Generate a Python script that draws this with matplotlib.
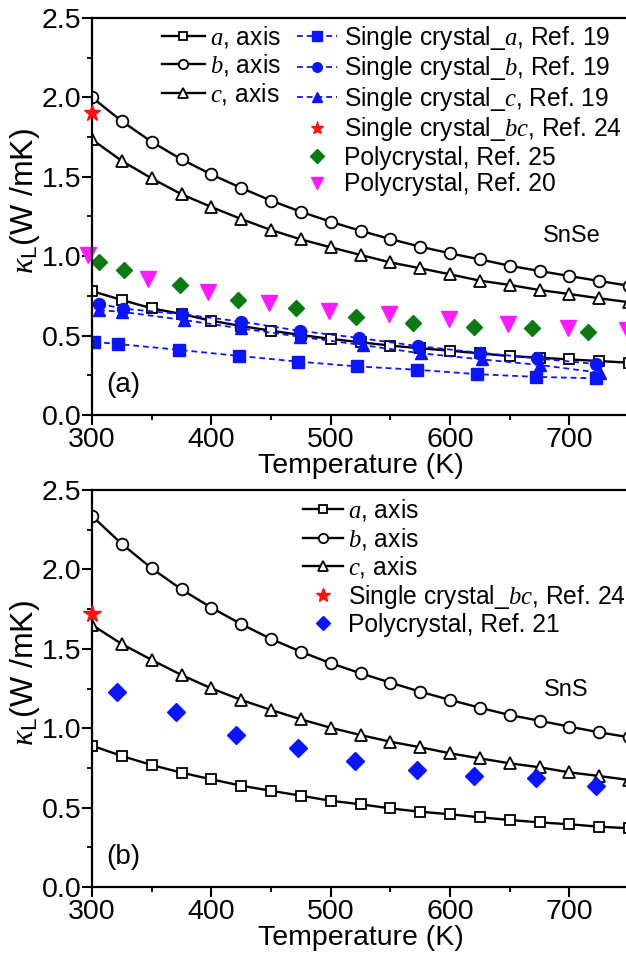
import matplotlib
matplotlib.use("Agg")
import matplotlib.pyplot as plt
from matplotlib.ticker import MultipleLocator

# ---------------- data ----------------
T_calc = [300, 325, 350, 375, 400, 425, 450, 475, 500, 525, 550, 575, 600, 625, 650, 675, 700, 725, 750]

# SnSe (panel a) calculated
snse_a = [0.78, 0.724, 0.672, 0.636, 0.594, 0.56, 0.531, 0.504, 0.479, 0.458, 0.437, 0.42, 0.405, 0.388, 0.371, 0.361, 0.35, 0.34, 0.329]
snse_b = [2.00, 1.85, 1.72, 1.61, 1.515, 1.43, 1.35, 1.28, 1.217, 1.16, 1.108, 1.06, 1.018, 0.98, 0.94, 0.907, 0.875, 0.844, 0.814]
snse_c = [1.735, 1.60, 1.49, 1.39, 1.31, 1.234, 1.165, 1.106, 1.056, 1.008, 0.961, 0.924, 0.886, 0.846, 0.819, 0.787, 0.762, 0.735, 0.71]

# SnSe experiments
T_sc19_a = [302, 322, 373, 423, 473, 522, 572, 623, 672, 722]
sc19_a = [0.46, 0.447, 0.41, 0.372, 0.336, 0.306, 0.285, 0.257, 0.24, 0.231]
T_sc19_b = [306, 326, 375, 425, 474, 524, 573, 625, 673, 722]
sc19_b = [0.70, 0.67, 0.635, 0.588, 0.53, 0.485, 0.434, 0.392, 0.357, 0.321]
T_sc19_c = [306, 325, 377, 425, 474, 527, 576, 627, 675, 726]
sc19_c = [0.66, 0.65, 0.598, 0.545, 0.493, 0.44, 0.388, 0.35, 0.315, 0.266]
T_sc24_se = [300]
sc24_se = [1.90]
T_pc25 = [306, 327, 374, 422, 471, 521, 569, 620, 669, 716]
pc25 = [0.965, 0.913, 0.82, 0.725, 0.672, 0.615, 0.577, 0.552, 0.546, 0.525]
T_pc20 = [297, 347, 397, 448, 499, 549, 599, 649, 699, 748]
pc20 = [1.01, 0.858, 0.777, 0.705, 0.653, 0.633, 0.606, 0.572, 0.549, 0.535]

# SnS (panel b) calculated
sns_a = [0.89, 0.825, 0.768, 0.72, 0.678, 0.638, 0.606, 0.575, 0.543, 0.521, 0.495, 0.474, 0.458, 0.439, 0.422, 0.407, 0.395, 0.38, 0.37]
sns_b = [2.336, 2.16, 2.007, 1.874, 1.759, 1.656, 1.562, 1.482, 1.409, 1.346, 1.287, 1.23, 1.178, 1.129, 1.083, 1.047, 1.01, 0.974, 0.943]
sns_c = [1.65, 1.53, 1.43, 1.335, 1.251, 1.178, 1.115, 1.056, 1.003, 0.957, 0.915, 0.88, 0.842, 0.81, 0.779, 0.754, 0.722, 0.699, 0.674]

T_sc24_s = [300]
sc24_s = [1.72]
T_pc21 = [321, 370, 421, 473, 520, 572, 620, 672, 722]
pc21 = [1.226, 1.10, 0.955, 0.873, 0.795, 0.737, 0.701, 0.684, 0.636]

xticks = [300, 400, 500, 600, 700]
yticks = [0.0, 0.5, 1.0, 1.5, 2.0, 2.5]

# ---------------- style ----------------
plt.rcParams['font.family'] = ['Liberation Sans', 'DejaVu Sans']
plt.rcParams['mathtext.fontset'] = 'custom'
plt.rcParams['mathtext.it'] = 'Liberation Serif:italic'
plt.rcParams['mathtext.rm'] = 'Liberation Sans'
plt.rcParams['mathtext.bf'] = 'Liberation Sans:bold'

BLUE = '#0a14ff'
GREEN = '#0b7a12'
MAG = '#ff1aff'
RED = '#ff1010'

fig = plt.figure(figsize=(6.26, 9.61), dpi=100)
W, H = 626, 961
ax1 = fig.add_axes([92 / W, (H - 415) / H, 537 / W, 397 / H])
ax2 = fig.add_axes([92 / W, (H - 887) / H, 537 / W, 397 / H])

calc_kw = dict(color='black', lw=1.7, mfc='white', mec='black', mew=1.3)


def style_axis(ax, letter, mat, matxy):
    ax.set_xlim(300, 750)
    ax.set_ylim(0, 2.5)
    ax.set_xticks(xticks)
    ax.set_yticks(yticks)
    ax.set_yticklabels([f"{v:.1f}" for v in yticks])
    ax.xaxis.set_minor_locator(MultipleLocator(50))
    ax.yaxis.set_minor_locator(MultipleLocator(0.25))
    ax.tick_params(which='major', direction='out', length=7, width=1.5,
                   labelsize=20.5, top=False, right=False)
    ax.tick_params(which='minor', direction='out', length=3.5, width=1.3,
                   top=False, right=False)
    ax.tick_params(axis='y', which='major', pad=0.5)
    ax.tick_params(axis='x', which='major', pad=1.5)
    for s in ax.spines.values():
        s.set_linewidth(1.6)
    ax.set_xlabel('Temperature (K)', fontsize=20.5, labelpad=0)
    ax.set_ylabel(r'$\kappa_{\rm L}$(W /mK)', fontsize=23)
    ax.yaxis.set_label_coords(-0.093, 0.54)
    ax.text(0.058, 0.075, letter, transform=ax.transAxes, fontsize=20,
            ha='center', va='center')
    ax.text(matxy[0], matxy[1], mat, fontsize=17, ha='center', va='center')


# ---------------- panel (a) SnSe ----------------
ha, = ax1.plot(T_calc, snse_a, marker='s', ms=7.4, label=r'$a$, axis', **calc_kw)
hb, = ax1.plot(T_calc, snse_b, marker='o', ms=8.4, label=r'$b$, axis', **calc_kw)
hc, = ax1.plot(T_calc, snse_c, marker='^', ms=9, label=r'$c$, axis', **calc_kw)

dash = (0, (3.2, 2.2))
e1, = ax1.plot(T_sc19_a, sc19_a, ls=dash, lw=1.3, color=BLUE, marker='s', ms=8.4,
               mec=BLUE, mfc=BLUE, label=r'Single crystal_$a$, Ref. 19')
e2, = ax1.plot(T_sc19_b, sc19_b, ls=dash, lw=1.3, color=BLUE, marker='o', ms=8.6,
               mec=BLUE, mfc=BLUE, label=r'Single crystal_$b$, Ref. 19')
e3, = ax1.plot(T_sc19_c, sc19_c, ls=dash, lw=1.3, color=BLUE, marker='^', ms=9.2,
               mec=BLUE, mfc=BLUE, label=r'Single crystal_$c$, Ref. 19')
e4, = ax1.plot(T_sc24_se, sc24_se, ls='none', marker='*', ms=12, color=RED, mec=RED,
               label=r'Single crystal_$bc$, Ref. 24', clip_on=False, zorder=5)
e5, = ax1.plot(T_pc25, pc25, ls='none', marker='D', ms=8.5, color=GREEN, mec=GREEN,
               label='Polycrystal, Ref. 25')
e6, = ax1.plot(T_pc20, pc20, ls='none', marker='v', ms=11.5, color=MAG, mec=MAG,
               label='Polycrystal, Ref. 20', clip_on=False)

leg_kw = dict(frameon=False, fontsize=17.7, borderpad=0, borderaxespad=0,
              labelspacing=0.1, markerscale=0.8)
l1 = ax1.legend(handles=[ha, hb, hc], loc='upper left', bbox_to_anchor=(0.130, 0.985),
                handlelength=1.75, handletextpad=0.2, **leg_kw)
ax1.add_artist(l1)
ax1.legend(handles=[e1, e2, e3, e4, e5, e6], loc='upper left', bbox_to_anchor=(0.382, 0.985),
           handlelength=1.63, handletextpad=0.28, **leg_kw)
style_axis(ax1, '(a)', 'SnSe', (702, 1.127))

# ---------------- panel (b) SnS ----------------
ga, = ax2.plot(T_calc, sns_a, marker='s', ms=7.4, label=r'$a$, axis', **calc_kw)
gb, = ax2.plot(T_calc, sns_b, marker='o', ms=8.4, label=r'$b$, axis', **calc_kw)
gc, = ax2.plot(T_calc, sns_c, marker='^', ms=9, label=r'$c$, axis', **calc_kw)
f1, = ax2.plot(T_sc24_s, sc24_s, ls='none', marker='*', ms=13, color=RED, mec=RED,
               label=r'Single crystal_$bc$, Ref. 24', clip_on=False, zorder=5)
f2, = ax2.plot(T_pc21, pc21, ls='none', marker='D', ms=9.2, color=BLUE, mec=BLUE,
               label='Polycrystal, Ref. 21')
ax2.legend(handles=[ga, gb, gc, f1, f2], loc='upper left', bbox_to_anchor=(0.393, 0.982),
           handlelength=1.63, handletextpad=0.18, **leg_kw)
style_axis(ax2, '(b)', 'SnS', (697, 1.24))

fig.savefig('out.png', dpi=100)
